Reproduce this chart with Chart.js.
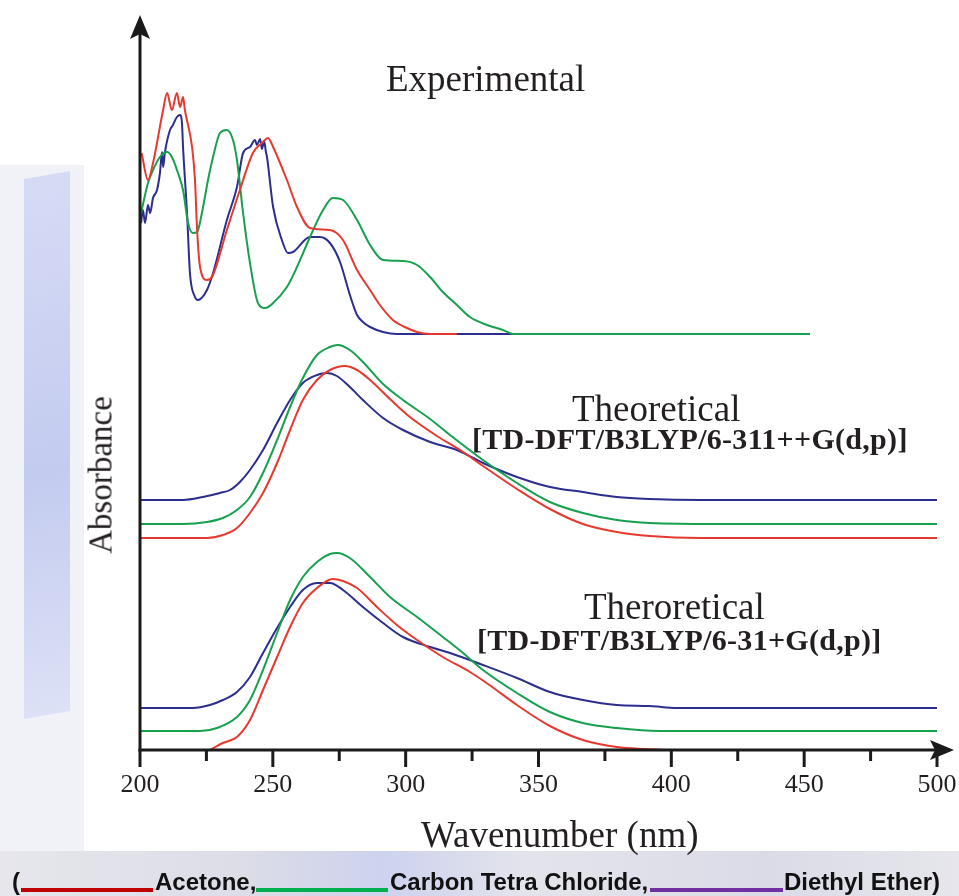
<!DOCTYPE html>
<html><head><meta charset="utf-8">
<script src="https://cdn.jsdelivr.net/npm/chart.js@4.4.0/dist/chart.umd.min.js"></script>
<style>
html,body{margin:0;padding:0;background:#fff;}
#wrap{position:relative;width:959px;height:896px;overflow:hidden;background:#f1f2f8;}
#wm1{position:absolute;left:24px;top:175px;width:46px;height:540px;background:linear-gradient(180deg,#d6dbf5,#c3cbef 55%,#dde1f6);transform:skewY(-10deg);}
#wm2{position:absolute;left:0;top:0;width:84px;height:165px;background:#fff;}
#band{position:absolute;left:0;top:851px;width:959px;height:45px;background:linear-gradient(90deg,#e6e6ec,#dcdde7 25%,#cdd2ee 40%,#e3e4eb 55%,#dadbe6 80%,#e6e6ec);}
#plot{position:absolute;left:84px;top:0;width:875px;height:851px;background:#fff;}
canvas{position:absolute;left:0;top:0;}
.t{position:absolute;font-family:'Liberation Serif','Times New Roman',serif;color:#231f20;white-space:nowrap;line-height:1;}
.b{font-weight:bold;letter-spacing:0.3px;}
.lg{position:absolute;top:870px;font-family:'Liberation Sans',Arial,sans-serif;font-weight:bold;font-size:24px;line-height:1;color:#111;white-space:nowrap;}
.ln{position:absolute;top:888px;height:4px;}
</style></head>
<body>
<div id="wrap">
  <div id="wm2"></div>
  <div id="wm1"></div>
  <div id="band"></div>
  <div id="plot"></div>
  <canvas id="c" width="959" height="896"></canvas>
  <div class="t" style="left:386px;top:60px;font-size:37px;">Experimental</div>
  <div class="t" style="left:572px;top:390px;font-size:37px;">Theoretical</div>
  <div class="t b" style="left:472px;top:424px;font-size:30px;">[TD-DFT/B3LYP/6-311++G(d,p)]</div>
  <div class="t" style="left:584px;top:588px;font-size:37px;">Theroretical</div>
  <div class="t b" style="left:477px;top:625px;font-size:30px;">[TD-DFT/B3LYP/6-31+G(d,p)]</div>
  <div class="t" style="left:421px;top:816px;font-size:37px;">Wavenumber (nm)</div>
  <div class="t" style="left:101px;top:475px;font-size:33px;transform:translate(-50%,-50%) rotate(-90deg);">Absorbance</div>
  <div class="lg" style="left:12px;">(</div>
  <div class="ln" style="left:21px;width:132px;background:#c00000;"></div>
  <div class="lg" style="left:155px;">Acetone,</div>
  <div class="ln" style="left:256px;width:132px;background:#00b050;"></div>
  <div class="lg" style="left:390px;">Carbon Tetra Chloride,</div>
  <div class="ln" style="left:650px;width:133px;background:#7030a0;"></div>
  <div class="lg" style="left:784px;">Diethyl Ether)</div>
</div>
<script>
// x: wavelength (nm); y: absorbance in arbitrary units (curves are vertically offset)
const xTicks = [200, 250, 300, 350, 400, 450, 500];
const seriesNames = ['Acetone', 'Carbon Tetra Chloride', 'Diethyl Ether'];

const expAcetone = [[200.6,5.97],[203.0,5.70],[204.9,5.87],[208.7,6.40],[210.2,6.57],[212.0,6.40],[213.9,6.57],[215.1,6.43],[216.2,6.53],[216.9,6.40],[219.6,6.03],[220.7,5.70],[221.5,5.20],[222.6,4.83],[225.2,4.70],[227.1,4.73],[232.7,5.20],[237.6,5.60],[242.5,5.97],[246.3,6.08],[248.2,6.12],[250.1,6.03],[255.3,5.70],[259.1,5.43],[264.0,5.22],[271.5,5.20],[276.4,5.10],[281.7,4.80],[286.6,4.60],[290.3,4.45],[295.2,4.30],[300.5,4.22],[304.3,4.18],[309.2,4.16],[319.3,4.16]];
const expCCl4 = [[200.4,5.37],[203.0,5.67],[204.9,5.80],[207.5,5.93],[210.2,5.98],[212.0,5.93],[214.3,5.77],[216.2,5.60],[218.1,5.27],[219.9,5.17],[221.5,5.18],[223.3,5.37],[225.6,5.70],[227.5,5.93],[230.1,6.17],[232.7,6.20],[235.0,6.10],[236.5,5.90],[238.8,5.37],[241.4,4.87],[244.4,4.47],[247.1,4.42],[250.1,4.47],[255.3,4.63],[259.1,4.83],[264.0,5.13],[268.9,5.40],[272.6,5.52],[276.4,5.50],[281.7,5.30],[286.6,5.05],[291.5,4.90],[299.0,4.89],[304.3,4.85],[309.2,4.73],[314.0,4.58],[319.3,4.45],[324.2,4.33],[330.6,4.25],[336.6,4.20],[340.4,4.16],[452.2,4.16]];
const expEther = [[200.4,5.27],[201.1,5.40],[201.9,5.27],[203.0,5.45],[203.8,5.37],[204.9,5.52],[206.4,5.60],[207.5,5.77],[208.3,5.98],[208.7,5.83],[209.4,5.98],[211.3,6.20],[212.4,6.25],[213.9,6.33],[215.1,6.35],[215.8,6.27],[216.2,6.03],[217.7,5.37],[218.8,4.77],[220.7,4.53],[221.8,4.50],[225.2,4.60],[227.5,4.77],[232.7,5.30],[236.5,5.63],[238.8,5.97],[241.4,6.03],[243.3,6.10],[244.0,6.05],[245.2,6.11],[245.9,6.01],[246.7,6.09],[247.4,5.98],[247.8,5.93],[250.1,5.43],[253.4,5.10],[255.7,4.97],[257.6,4.98],[264.0,5.13],[267.7,5.13],[271.5,5.07],[275.3,4.88],[279.0,4.55],[281.7,4.35],[283.9,4.28],[286.6,4.23],[291.5,4.18],[296.7,4.16],[400.6,4.16]];

const theo1Acetone = [[200,2.12],[225.2,2.12],[231.2,2.15],[236.5,2.22],[241.4,2.37],[246.3,2.57],[251.6,2.87],[256.5,3.20],[261.3,3.50],[266.6,3.70],[271.5,3.80],[277.2,3.84],[281.7,3.80],[286.6,3.70],[294.1,3.51],[301.6,3.33],[311.8,3.14],[321.6,2.98],[329.1,2.84],[341.9,2.61],[354.3,2.41],[366.7,2.26],[379.5,2.18],[391.9,2.14],[410.8,2.12],[500,2.12]];
const theo1CCl4 = [[200,2.26],[216.2,2.26],[225.2,2.28],[231.2,2.32],[236.5,2.40],[241.4,2.53],[246.3,2.77],[251.6,3.10],[256.5,3.43],[261.3,3.72],[266.6,3.95],[271.5,4.03],[274.5,4.05],[279.0,4.00],[283.9,3.88],[291.5,3.66],[299.0,3.50],[309.2,3.31],[316.7,3.15],[329.1,2.90],[341.9,2.67],[354.3,2.48],[366.7,2.37],[379.5,2.30],[391.9,2.27],[417.1,2.26],[500,2.26]];
const theo1Ether = [[200,2.50],[216.2,2.50],[223.7,2.53],[230.1,2.57],[233.9,2.60],[237.6,2.68],[241.4,2.80],[246.3,3.00],[251.6,3.27],[256.5,3.50],[261.3,3.67],[266.6,3.75],[270.4,3.77],[274.1,3.74],[279.0,3.63],[283.9,3.50],[291.5,3.32],[299.0,3.20],[309.2,3.08],[319.3,3.00],[329.1,2.87],[341.9,2.73],[354.3,2.63],[366.7,2.58],[379.5,2.53],[391.9,2.51],[410.8,2.50],[500,2.50]];

const theo2Acetone = [[226.3,0.00],[231.2,0.07],[236.5,0.13],[241.4,0.30],[246.3,0.60],[251.6,0.93],[256.5,1.23],[261.3,1.47],[266.6,1.62],[272.6,1.71],[276.4,1.69],[281.7,1.62],[289.2,1.43],[296.7,1.25],[304.3,1.10],[314.0,0.93],[324.2,0.78],[331.0,0.66],[341.9,0.45],[354.3,0.24],[366.7,0.10],[379.5,0.03],[390.0,0.01],[399.5,0.00]];
const theo2CCl4 = [[200,0.19],[222.6,0.19],[229.0,0.22],[236.5,0.33],[241.4,0.50],[246.3,0.80],[251.6,1.17],[256.5,1.50],[261.3,1.73],[266.6,1.88],[271.5,1.96],[274.1,1.97],[279.0,1.92],[286.6,1.73],[294.1,1.53],[304.3,1.33],[314.0,1.13],[321.6,0.97],[329.1,0.80],[341.9,0.57],[354.3,0.38],[366.7,0.27],[379.5,0.22],[395.7,0.19],[500,0.19]];
const theo2Ether = [[200,0.42],[219.9,0.42],[226.3,0.45],[231.2,0.50],[236.5,0.58],[241.4,0.73],[246.3,0.97],[251.6,1.22],[256.5,1.43],[261.3,1.60],[266.6,1.67],[271.5,1.67],[276.4,1.60],[283.9,1.43],[291.5,1.27],[299.0,1.13],[309.2,1.03],[316.7,0.97],[329.1,0.85],[341.9,0.72],[354.3,0.58],[366.7,0.50],[379.5,0.45],[391.9,0.44],[402.1,0.42],[500,0.42]];

const RED = '#e6392f', GREEN = '#17a04e', BLUE = '#2c2e8e';

function ds(label, pts, color) {
  return { label, data: pts.map(p => ({x: p[0], y: p[1]})), borderColor: color, backgroundColor: color,
    borderWidth: 2, pointRadius: 0, cubicInterpolationMode: 'monotone', fill: false };
}

const axesPlugin = {
  id: 'axes',
  afterDatasetsDraw(c) {
    const ctx = c.ctx, x = c.scales.x, y = c.scales.y;
    const x0 = x.getPixelForValue(200), y0 = y.getPixelForValue(0);
    const xEnd = x.getPixelForValue(500), yTop = c.chartArea.top;
    ctx.save();
    ctx.strokeStyle = '#1b1b1b'; ctx.fillStyle = '#1b1b1b'; ctx.lineWidth = 3; ctx.lineCap = 'butt';
    ctx.beginPath(); ctx.moveTo(x0, y0 + 1.5); ctx.lineTo(x0, yTop + 18); ctx.stroke();
    ctx.beginPath(); ctx.moveTo(x0 - 1.5, y0); ctx.lineTo(xEnd + 6, y0); ctx.stroke();
    // arrows
    ctx.beginPath(); ctx.moveTo(x0, yTop); ctx.lineTo(x0 + 10, yTop + 24); ctx.lineTo(x0, yTop + 19); ctx.lineTo(x0 - 10, yTop + 24); ctx.closePath(); ctx.fill();
    const tip = xEnd + 17;
    ctx.beginPath(); ctx.moveTo(tip, y0); ctx.lineTo(tip - 24, y0 - 10); ctx.lineTo(tip - 19, y0); ctx.lineTo(tip - 24, y0 + 10); ctx.closePath(); ctx.fill();
    // ticks
    for (let v = 200; v <= 500; v += 25) {
      const px = x.getPixelForValue(v);
      const len = (v % 50 === 0) ? 17 : 11;
      ctx.beginPath(); ctx.moveTo(px, y0); ctx.lineTo(px, y0 + len); ctx.stroke();
    }
    ctx.restore();
  }
};

new Chart(document.getElementById('c').getContext('2d'), {
  type: 'line',
  data: { datasets: [
    ds(seriesNames[0] + ' (exp)', expAcetone, RED),
    ds(seriesNames[1] + ' (exp)', expCCl4, GREEN),
    ds(seriesNames[2] + ' (exp)', expEther, BLUE),
    ds(seriesNames[0] + ' (6-311++G)', theo1Acetone, RED),
    ds(seriesNames[1] + ' (6-311++G)', theo1CCl4, GREEN),
    ds(seriesNames[2] + ' (6-311++G)', theo1Ether, BLUE),
    ds(seriesNames[0] + ' (6-31+G)', theo2Acetone, RED),
    ds(seriesNames[1] + ' (6-31+G)', theo2CCl4, GREEN),
    ds(seriesNames[2] + ' (6-31+G)', theo2Ether, BLUE)
  ]},
  options: {
    responsive: false, animation: false, devicePixelRatio: 1,
    layout: { padding: { left: 140, right: 22, top: 15, bottom: 0 } },
    plugins: { legend: { display: false }, tooltip: { enabled: false } },
    scales: {
      x: { type: 'linear', min: 200, max: 500,
        afterFit(s) { s.height = 146; s.paddingLeft = 0; s.paddingRight = 0; },
        afterBuildTicks(s) { s.ticks = xTicks.map(v => ({ value: v })); },
        grid: { display: false, drawTicks: false }, border: { display: false },
        ticks: { font: { family: "'Liberation Serif','Times New Roman',serif", size: 26 }, color: '#231f20', padding: 20, maxRotation: 0, autoSkip: false } },
      y: { display: false, min: 0, max: 7.35 }
    }
  },
  plugins: [axesPlugin]
});
</script>
</body></html>
